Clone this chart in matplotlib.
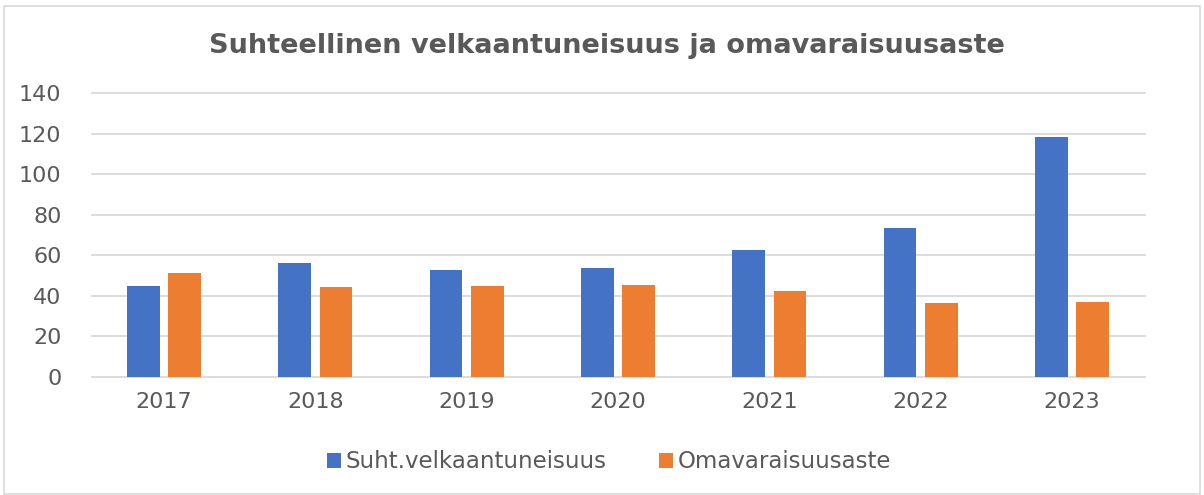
import numpy as np
import matplotlib.pyplot as plt
from matplotlib.patches import Rectangle

years = ["2017", "2018", "2019", "2020", "2021", "2022", "2023"]
velkaantuneisuus = [45.0, 56.2, 52.6, 53.6, 62.4, 73.3, 118.4]
omavaraisuus = [51.1, 44.2, 44.7, 45.3, 42.2, 36.4, 36.9]
yticks = [0, 20, 40, 60, 80, 100, 120, 140]

blue = "#4472C4"
orange = "#ED7D31"
grey_txt = "#595959"
grid_col = "#D9D9D9"

fig = plt.figure(figsize=(12.04, 4.95), dpi=100)
ax = fig.add_axes([0.0764, 0.239, 0.8746, 0.5725])

x = np.arange(len(years))
w = 0.216
gap = 0.057
ax.bar(x - (w + gap) / 2, velkaantuneisuus, w, color=blue, label="Suht.velkaantuneisuus", zorder=3)
ax.bar(x + (w + gap) / 2, omavaraisuus, w, color=orange, label="Omavaraisuusaste", zorder=3)

ax.set_xlim(-0.476, 6.482)
ax.set_ylim(0, 140)
ax.set_yticks(yticks)
ax.set_xticks(x)
ax.set_xticklabels(years)
# gridlines drawn unclipped so the top one is full width
for v in yticks:
    ax.axhline(v, color=grid_col, lw=1.3, zorder=1, clip_on=False)
for s in ax.spines.values():
    s.set_visible(False)
ax.tick_params(length=0, labelsize=16, colors=grey_txt)
ax.tick_params(axis="y", pad=22)
ax.tick_params(axis="x", pad=11)

fig.text(0.5045, 0.907, "Suhteellinen velkaantuneisuus ja omavaraisuusaste",
         ha="center", va="center", fontsize=19.5, fontweight="bold", color=grey_txt)

leg = fig.legend(loc="center", bbox_to_anchor=(0.506, 0.067), ncol=2, frameon=False,
                 fontsize=16.5, handlelength=0.6, handleheight=0.6, handletextpad=0.2,
                 columnspacing=2.3, labelcolor=grey_txt)

fig.patches.append(Rectangle((0.003, 0.003), 0.994, 0.985, transform=fig.transFigure,
                             fill=False, edgecolor=grid_col, lw=1.2))

fig.savefig("out.png", dpi=100)
